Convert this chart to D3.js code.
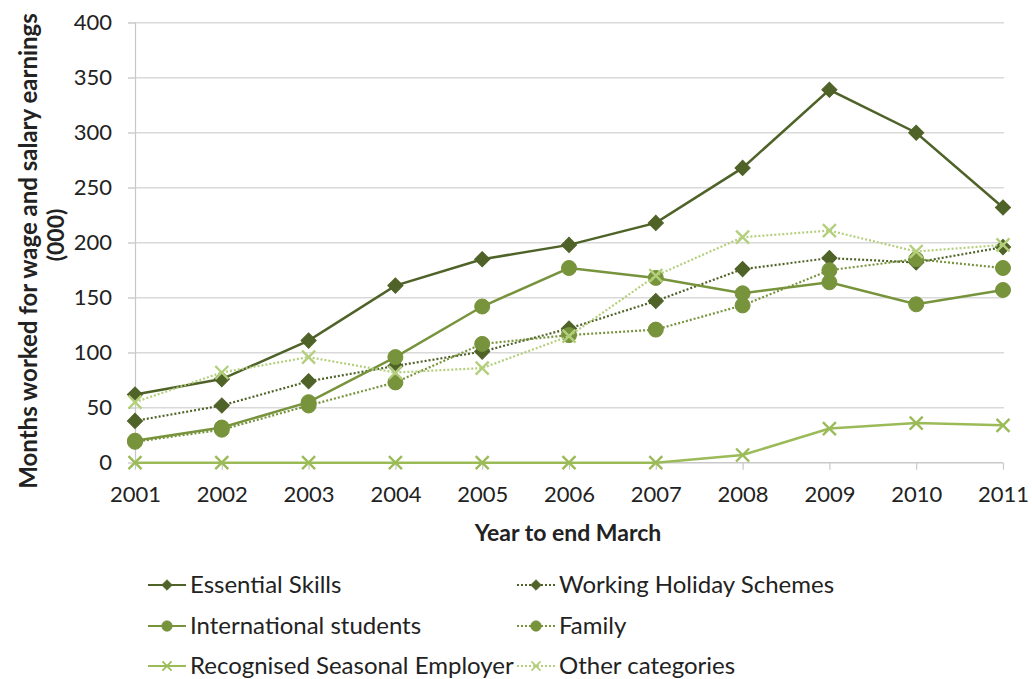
<!DOCTYPE html>
<html>
<head>
<meta charset="utf-8">
<script src="https://cdn.jsdelivr.net/npm/d3@7"></script>
<style>
  html, body { margin: 0; padding: 0; background: #fff; }
  svg { display: block; font-family: Lato, "Open Sans", sans-serif; }
</style>
</head>
<body>
<svg id="chart" width="1032" height="679"></svg>
<script>
// Year to end March
const years = [2001, 2002, 2003, 2004, 2005, 2006, 2007, 2008, 2009, 2010, 2011];

// Months worked for wage and salary earnings (000)
const essentialSkills   = [62, 76, 111, 161, 185, 198, 218, 268, 339, 300, 232];
const workingHoliday    = [38, 52, 74, 88, 101, 122, 147, 176, 186, 182, 196];
const intlStudents      = [20, 32, 55, 96, 142, 177, 168, 154, 164, 144, 157];
const family            = [19, 30, 52, 73, 108, 116, 121, 143, 175, 185, 177];
const seasonalEmployer  = [0, 0, 0, 0, 0, 0, 0, 7, 31, 36, 34];
const otherCategories   = [55, 82, 96, 82, 86, 115, 170, 205, 211, 192, 198];

const yTicks = [0, 50, 100, 150, 200, 250, 300, 350, 400];

const seriesNames = ["Essential Skills", "Working Holiday Schemes", "International students",
                     "Family", "Recognised Seasonal Employer", "Other categories"];

const series = [
  { name: seriesNames[0], values: essentialSkills,  color: "#4f6228", marker: "diamond", dash: null },
  { name: seriesNames[1], values: workingHoliday,   color: "#4f6228", marker: "diamond", dash: "2,2" },
  { name: seriesNames[2], values: intlStudents,     color: "#77933c", marker: "circle",  dash: null },
  { name: seriesNames[3], values: family,           color: "#77933c", marker: "circle",  dash: "2,2" },
  { name: seriesNames[4], values: seasonalEmployer, color: "#9bbb59", marker: "cross",   dash: null },
  { name: seriesNames[5], values: otherCategories,  color: "#b3cf7c", marker: "cross",   dash: "2,2" }
];

const svg = d3.select("#chart");

const x = d3.scaleLinear().domain([2001, 2011]).range([135, 1003]);
const y = d3.scaleLinear().domain([0, 400]).range([462.7, 22.7]);

// Horizontal gridlines
svg.append("g")
  .selectAll("line")
  .data(yTicks.filter(d => d > 0))
  .join("line")
  .attr("x1", 128).attr("x2", 1004)
  .attr("y1", d => y(d)).attr("y2", d => y(d))
  .attr("stroke", "#d9d9d9").attr("stroke-width", 1.5);

// Y axis
const yAxis = svg.append("g")
  .attr("transform", `translate(${x(2001)},0)`)
  .call(d3.axisLeft(y).tickValues(yTicks).tickSize(7).tickPadding(16));
yAxis.select(".domain").attr("stroke", "#c8c8c8").attr("stroke-width", 1.2);
yAxis.selectAll(".tick line").attr("stroke", "#d9d9d9").attr("stroke-width", 1.5);
yAxis.selectAll(".tick text")
  .attr("fill", "#222").style("font-size", "22px").attr("font-family", "Lato, sans-serif");

// X axis
const xAxis = svg.append("g")
  .attr("transform", `translate(0,${y(0)})`)
  .call(d3.axisBottom(x).tickValues(years).tickFormat(d3.format("d")).tickSize(7).tickPadding(17));
xAxis.select(".domain").attr("stroke", "#c8c8c8").attr("stroke-width", 1.5)
  .attr("d", `M${x(2001)},0H${x(2011)}`);
xAxis.selectAll(".tick line").attr("stroke", "#c8c8c8").attr("stroke-width", 1.2);
xAxis.selectAll(".tick text")
  .attr("fill", "#222").style("font-size", "22px").attr("font-family", "Lato, sans-serif");

// Axis titles
svg.append("text")
  .attr("x", 568).attr("y", 541)
  .attr("text-anchor", "middle")
  .attr("font-weight", "bold").attr("font-size", 23).attr("fill", "#222")
  .text("Year to end March");

const yTitle = svg.append("g").attr("transform", "translate(0,251) rotate(-90)");
yTitle.append("text")
  .attr("x", 0).attr("y", 37)
  .attr("text-anchor", "middle")
  .attr("font-weight", "bold").attr("font-size", 24).attr("fill", "#222")
  .text("Months worked for wage and salary earnings");
yTitle.append("text")
  .attr("x", 16).attr("y", 64)
  .attr("text-anchor", "middle")
  .attr("font-weight", "bold").attr("font-size", 23).attr("fill", "#222")
  .text("(000)");

// Marker shapes
const diamond = d3.symbol().type(d3.symbolSquare).size(115)();
function drawMarker(g, type, color, cx, cy) {
  if (type === "diamond") {
    g.append("path").attr("d", diamond)
      .attr("transform", `translate(${cx},${cy}) rotate(45)`)
      .attr("fill", color).attr("stroke", color).attr("stroke-width", 1);
  } else if (type === "circle") {
    g.append("circle").attr("cx", cx).attr("cy", cy).attr("r", 7.5)
      .attr("fill", color).attr("stroke", color).attr("stroke-width", 1);
  } else {
    const s = 6.5;
    g.append("path")
      .attr("d", `M${cx - s},${cy - s}L${cx + s},${cy + s}M${cx - s},${cy + s}L${cx + s},${cy - s}`)
      .attr("stroke", color).attr("stroke-width", 2.4).attr("fill", "none");
  }
}

const line = d3.line().x((d, i) => x(years[i])).y(d => y(d));

// Series lines and markers
series.forEach(s => {
  const g = svg.append("g");
  g.append("path")
    .attr("d", line(s.values))
    .attr("fill", "none")
    .attr("stroke", s.color)
    .attr("stroke-width", s.dash ? 2.2 : 2.5)
    .attr("stroke-dasharray", s.dash);
  s.values.forEach((v, i) => drawMarker(g, s.marker, s.color, x(years[i]), y(v)));
});

// Legend
const legendCols = [148, 517];
const legendRows = [585, 626, 666];
series.forEach((s, i) => {
  const lx = legendCols[i % 2];
  const ly = legendRows[Math.floor(i / 2)];
  const g = svg.append("g");
  g.append("line")
    .attr("x1", lx).attr("x2", lx + 38).attr("y1", ly).attr("y2", ly)
    .attr("stroke", s.color).attr("stroke-width", 2.2)
    .attr("stroke-dasharray", s.dash);
  const m = g.append("g").attr("transform", `translate(${lx + 19},${ly}) scale(0.7)`);
  drawMarker(m, s.marker, s.color, 0, 0);
  g.append("text")
    .attr("x", lx + 42).attr("y", ly)
    .attr("dy", "0.35em")
    .attr("font-size", 24).attr("fill", "#222")
    .text(s.name);
});
</script>
</body>
</html>
